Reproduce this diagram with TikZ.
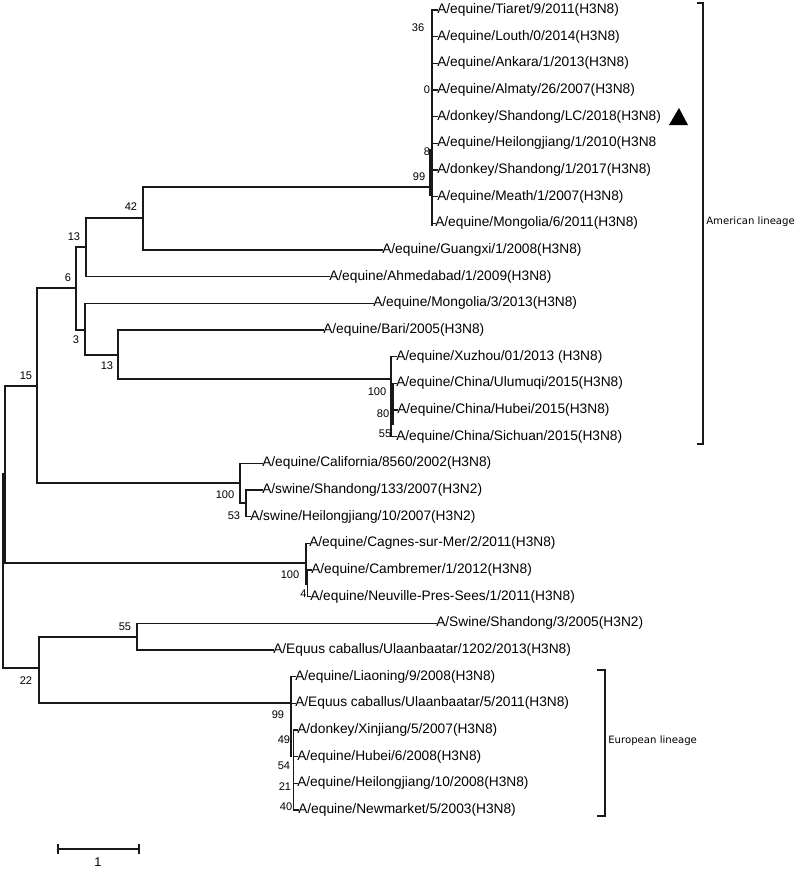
\documentclass[tikz,border=0pt]{standalone}
\usepackage{fontspec}
\setmainfont{Liberation Sans}
\newfontfamily\lineagefont{DejaVu Sans}
\begin{document}
\begin{tikzpicture}[x=0.75pt,y=-0.75pt,
  br/.style={line width=1.1pt, draw=black!90, line cap=rect},
  brk/.style={line width=1pt, draw=black!90},
  tip/.style={anchor=west, inner sep=0pt, font=\fontsize{10.3}{12}\selectfont, text=black},
  bs/.style={inner sep=0pt, font=\fontsize{8.3}{9}\selectfont, text=black},
  lin/.style={anchor=west, inner sep=0pt, font=\lineagefont\fontsize{7.6}{9}\selectfont, text=black}]
\useasboundingbox[fill=white] (0,0) rectangle (800,869);

% ---- tips ----
\node[tip] (t1)  at (437,10)    {A/equine/Tiaret/9/2011(H3N8)};
\node[tip] (t2)  at (437,36.7)  {A/equine/Louth/0/2014(H3N8)};
\node[tip] (t3)  at (437,63.3)  {A/equine/Ankara/1/2013(H3N8)};
\node[tip] (t4)  at (437,90)    {A/equine/Almaty/26/2007(H3N8)};
\node[tip] (t5)  at (437,116.7) {A/donkey/Shandong/LC/2018(H3N8)};
\node[tip] (t6)  at (437,143.3) {A/equine/Heilongjiang/1/2010(H3N8};
\node[tip] (t7)  at (437,170)   {A/donkey/Shandong/1/2017(H3N8)};
\node[tip] (t8)  at (437,196.7) {A/equine/Meath/1/2007(H3N8)};
\node[tip] (t9)  at (435,223.3) {A/equine/Mongolia/6/2011(H3N8)};
\node[tip] (t10) at (382,250)   {A/equine/Guangxi/1/2008(H3N8)};
\node[tip] (t11) at (329,276.7) {A/equine/Ahmedabad/1/2009(H3N8)};
\node[tip] (t12) at (373,303.3) {A/equine/Mongolia/3/2013(H3N8)};
\node[tip] (t13) at (323,330)   {A/equine/Bari/2005(H3N8)};
\node[tip] (t14) at (396,356.7) {A/equine/Xuzhou/01/2013 (H3N8)};
\node[tip] (t15) at (396,383.3) {A/equine/China/Ulumuqi/2015(H3N8)};
\node[tip] (t16) at (397,410)   {A/equine/China/Hubei/2015(H3N8)};
\node[tip] (t17) at (396,436.7) {A/equine/China/Sichuan/2015(H3N8)};
\node[tip] (t18) at (262,463.3) {A/equine/California/8560/2002(H3N8)};
\node[tip] (t19) at (262,490)   {A/swine/Shandong/133/2007(H3N2)};
\node[tip] (t20) at (250,516.7) {A/swine/Heilongjiang/10/2007(H3N2)};
\node[tip] (t21) at (309,543.3) {A/equine/Cagnes-sur-Mer/2/2011(H3N8)};
\node[tip] (t22) at (311,570)   {A/equine/Cambremer/1/2012(H3N8)};
\node[tip] (t23) at (310,596.7) {A/equine/Neuville-Pres-Sees/1/2011(H3N8)};
\node[tip] (t24) at (436,623.3) {A/Swine/Shandong/3/2005(H3N2)};
\node[tip] (t25) at (273,650)   {A/Equus caballus/Ulaanbaatar/1202/2013(H3N8)};
\node[tip] (t26) at (295,676.7) {A/equine/Liaoning/9/2008(H3N8)};
\node[tip] (t27) at (295,703.3) {A/Equus caballus/Ulaanbaatar/5/2011(H3N8)};
\node[tip] (t28) at (297,730)   {A/donkey/Xinjiang/5/2007(H3N8)};
\node[tip] (t29) at (297,756.7) {A/equine/Hubei/6/2008(H3N8)};
\node[tip] (t30) at (297,783.3) {A/equine/Heilongjiang/10/2008(H3N8)};
\node[tip] (t31) at (298,810)   {A/equine/Newmarket/5/2003(H3N8)};

% ---- internal nodes ----
\coordinate (r0)    at (3,571);
\coordinate (nA)    at (5,474);
\coordinate (n15)   at (37,386);
\coordinate (n6)    at (76,288);
\coordinate (n13a)  at (86,247);
\coordinate (n42)   at (143,218);
\coordinate (n99)   at (430,187);
\coordinate (ctop)  at (432,10);
\coordinate (cbot)  at (432,225);
\coordinate (n3)    at (85,330);
\coordinate (n13b)  at (118,355);
\coordinate (n100b) at (391,379);
\coordinate (n80)   at (393,404);
\coordinate (n100d) at (240,483);
\coordinate (n53)   at (246,503);
\coordinate (n100c) at (306,563);
\coordinate (n4)    at (307.5,584);
\coordinate (n22)   at (39,668);
\coordinate (n55)   at (137,637);
\coordinate (n99e)  at (291,703);
\coordinate (n49)   at (293.5,770);

% ---- branches ----
\draw[br] (r0) |- (nA);   \draw[br] (r0) |- (n22);
\draw[br] (nA) |- (n15);  \draw[br] (nA) |- (n100c);
\draw[br] (n15) |- (n6);  \draw[br] (n15) |- (n100d);
\draw[br] (n6) |- (n13a); \draw[br] (n6) |- (n3);
\draw[br] (n13a) |- (n42); \draw[br] (n13a) |- (t11.west);
\draw[br] (n42) |- (n99);  \draw[br] (n42) |- (t10.west);
\draw[br] (n99 |- 0,150) -- (n99 |- 0,195);
\draw[br] (ctop) -- (cbot);
\foreach \i in {1,...,9} { \draw[br] (ctop |- t\i.west) -- (t\i.west); }
\draw[br] (n3) |- (t12.west);  \draw[br] (n3) |- (n13b);
\draw[br] (n13b) |- (t13.west); \draw[br] (n13b) |- (n100b);
\draw[br] (n100b |- t14.west) -- (n100b |- t17.west);
\draw[br] (n80 |- 0,385) -- (n80 |- 0,424);
\foreach \i in {14,...,17} { \draw[br] (n100b |- t\i.west) -- (t\i.west); }
\draw[br] (n100d) |- (t18.west); \draw[br] (n100d) |- (n53);
\draw[br] (n53) |- (t19.west);   \draw[br] (n53) |- (t20.west);
\draw[br] (n100c) |- (t21.west); \draw[br] (n100c) |- (n4);
\draw[br] (n4) |- (t22.west);    \draw[br] (n4) |- (t23.west);
\draw[br] (n22) |- (n55);  \draw[br] (n22) |- (n99e);
\draw[br] (n55) |- (t24.west); \draw[br] (n55) |- (t25.west);
\draw[br] (n99e |- t26.west) -- (n99e |- t29.west);
\draw[br] (n49 |- t28.west) -- (n49 |- t31.west);
\foreach \i in {26,27} { \draw[br] (n99e |- t\i.west) -- (t\i.west); }
\foreach \i in {28,...,31} { \draw[br] (n49 |- t\i.west) -- (t\i.west); }

% ---- bootstrap values ----
\node[bs] (b36)  at (418,28)  {36};
\node[bs] (b0)   at (427,90)  {0};
\node[bs] (b8)   at (427,152) {8};
\node[bs] (b99)  at (419,177) {99};
\node[bs] (b42)  at (131,207) {42};
\node[bs] (b13a) at (74,237)  {13};
\node[bs] (b6)   at (68,278)  {6};
\node[bs] (b3)   at (76,340)  {3};
\node[bs] (b13b) at (107,366) {13};
\node[bs] (b100b) at (377,392) {100};
\node[bs] (b80)  at (383,414) {80};
\node[bs] (b55b) at (385,434) {55};
\node[bs] (b15)  at (26,376)  {15};
\node[bs] (b100d) at (225,495) {100};
\node[bs] (b53)  at (234,516) {53};
\node[bs] (b100c) at (290,575) {100};
\node[bs] (b4)   at (303.5,594) {4};
\node[bs] (b55)  at (125,627) {55};
\node[bs] (b22)  at (26,681)  {22};
\node[bs] (b99e) at (278,715) {99};
\node[bs] (b49)  at (284,740) {49};
\node[bs] (b54)  at (284,766) {54};
\node[bs] (b21)  at (285,787) {21};
\node[bs] (b40)  at (286,807) {40};

% ---- marker ----
\fill[black] (669,125) -- (679,108) -- (688,125) -- cycle;

% ---- lineage brackets ----
\draw[brk] (697,3) -- (703,3) -- (703,444) -- (697,444);
\node[lin] (aml) at (706,222) {American lineage};
\draw[brk] (597,670) -- (605,670) -- (605,816) -- (597,816);
\node[lin] (eul) at (608,741) {European lineage};

% ---- scale bar ----
\coordinate (sa) at (58,849);
\coordinate (sb) at (139,849);
\draw[brk] (sa) -- (sb);
\draw[brk] (sa) ++(0,-5) -- ++(0,10);
\draw[brk] (sb) ++(0,-5) -- ++(0,10);
\node[bs, font=\fontsize{9.5}{11}\selectfont] (s1) at (98,862) {1};
\end{tikzpicture}
\end{document}
